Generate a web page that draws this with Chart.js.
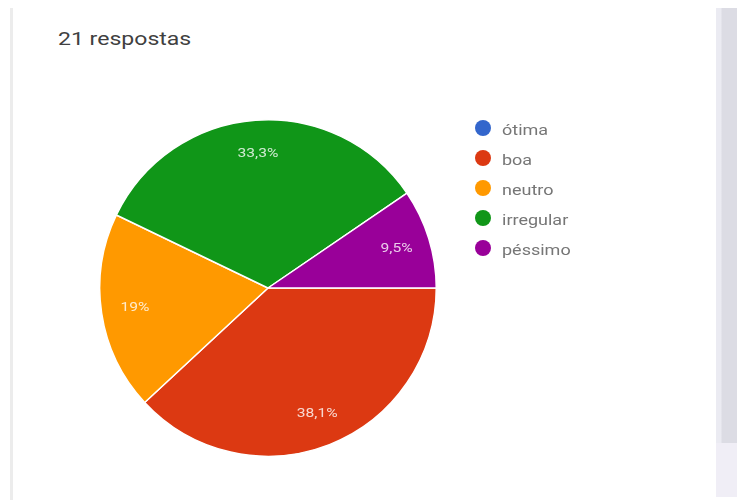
<!DOCTYPE html>
<html>
<head>
<meta charset="utf-8">
<script src="https://cdn.jsdelivr.net/npm/chart.js@4"></script>
<style>
    html, body { margin: 0; padding: 0; background: #fff; }
    body { width: 737px; height: 500px; position: relative; overflow: hidden; font-family: Roboto, Arial, sans-serif; }
    #borderLeft { position: absolute; left: 10px; top: 8px; width: 3px; height: 492px; background: #ececec; }
    #stripRight { position: absolute; left: 716px; top: 8px; width: 21px; height: 435px; background: linear-gradient(to right, #ebebf2 0, #ebebf2 5px, #dcdce4 6px); }
    #stripRightLow { position: absolute; left: 716px; top: 443px; width: 21px; height: 54px; background: #f0eef6; }
    #title { position: absolute; left: 58px; top: 28px; font-size: 18px; line-height: 21px; color: #404040; transform: scaleX(1.28); transform-origin: left top; white-space: nowrap; }
    #chartBox { position: absolute; left: 0; top: 0; width: 737px; height: 500px; }
    #legend { position: absolute; left: 475px; top: 120px; }
    .item { height: 30px; position: relative; }
    .dot { position: absolute; left: 0; top: 0; width: 16px; height: 16px; border-radius: 50%; }
    .txt { position: absolute; left: 27px; top: 1px; font-size: 15px; line-height: 18px; color: #767676; transform: scaleX(1.2); transform-origin: left top; white-space: nowrap; }
</style>
</head>
<body>
<div id="borderLeft"></div>
<div id="stripRight"></div>
<div id="stripRightLow"></div>
<div id="title">21 respostas</div>
<div id="chartBox"><canvas id="pieCanvas"></canvas></div>
<div id="legend"></div>
<script>
// 回答データ
const categories = ['ótima', 'boa', 'neutro', 'irregular', 'péssimo'];
const responses = [0, 8, 4, 7, 2];
const sliceColors = ['#3366cc', '#dc3912', '#ff9900', '#109618', '#990099'];

// 凡例 (HTML)
const legendEl = document.getElementById('legend');
categories.forEach((name, i) => {
    const row = document.createElement('div');
    row.className = 'item';
    row.innerHTML = `<span class="dot" style="background:${sliceColors[i]}"></span><span class="txt">${name}</span>`;
    legendEl.appendChild(row);
});

const ctx = document.getElementById('pieCanvas').getContext('2d');
new Chart(ctx, {
    type: 'pie',
    data: {
        labels: categories,
        datasets: [
            {
                data: responses,
                backgroundColor: sliceColors,
                borderColor: '#ffffff',
                borderWidth: 1.5,
            },
        ],
    },
    options: {
        responsive: true,
        maintainAspectRatio: false,
        animation: false,
        rotation: 90,
        layout: { padding: { left: 99, right: 300, top: 119, bottom: 43 } },
        plugins: {
            legend: { display: false },
            tooltip: { enabled: false },
        },
    },
    plugins: [
        {
            id: 'percentLabels',
            afterDatasetsDraw: (chart) => {
                const c = chart.ctx;
                const dataset = chart.data.datasets[0];
                const total = dataset.data.reduce((a, b) => a + b, 0);
                const meta = chart.getDatasetMeta(0);
                meta.data.forEach((arc, i) => {
                    const value = dataset.data[i];
                    if (!value) return;
                    const pct = (value / total) * 100;
                    let text = pct.toFixed(1).replace('.', ',');
                    if (text.endsWith(',0')) text = text.slice(0, -2);
                    text += '%';
                    const mid = (arc.startAngle + arc.endAngle) / 2;
                    const r = arc.outerRadius * 0.8;
                    c.save();
                    c.translate(arc.x + Math.cos(mid) * r, arc.y + Math.sin(mid) * r);
                    c.scale(1.2, 1);
                    c.fillStyle = 'rgba(255,255,255,0.8)';
                    c.font = "13px Roboto, Arial";
                    c.textAlign = 'center';
                    c.textBaseline = 'middle';
                    c.fillText(text, 0, 0);
                    c.restore();
                });
            },
        },
    ],
});
</script>
</body>
</html>
